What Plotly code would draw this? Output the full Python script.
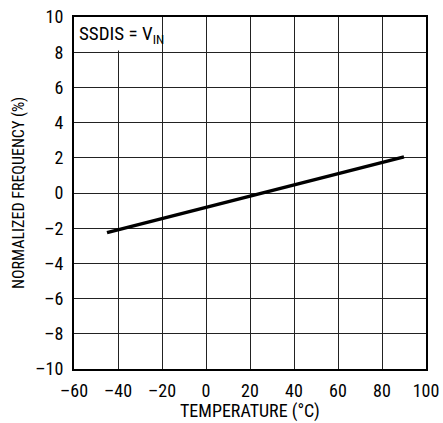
import plotly.graph_objects as go

temperature = [-45, 90]
norm_freq = [-2.25, 2.05]
x_ticks = [-60, -40, -20, 0, 20, 40, 60, 80, 100]
y_ticks = [-10, -8, -6, -4, -2, 0, 2, 4, 6, 8, 10]
y_tick_text = [str(v).replace("-", "\u2013") for v in y_ticks]
x_tick_text = [str(v).replace("-", "\u2013") for v in x_ticks]

FONT = "Liberation Sans Narrow, Roboto Condensed, Arial Narrow, sans-serif"

fig = go.Figure()
fig.add_trace(go.Scatter(x=temperature, y=norm_freq, mode="lines",
                         line=dict(color="black", width=3.5), showlegend=False))

fig.add_shape(type="rect", xref="x", yref="y", x0=-60, x1=-20.5, y0=8.1, y1=10,
              fillcolor="white", line=dict(width=0), layer="above")
fig.add_annotation(x=-58.5, y=9.0, xref="x", yref="y", xanchor="left", yanchor="middle",
                   text="SSDIS = V<sub>IN</sub>", showarrow=False,
                   font=dict(family=FONT, size=19, color="black"))

# axis titles as annotations for precise placement
fig.add_annotation(x=0.5, y=0, xref="paper", yref="paper", yshift=-42,
                   xanchor="center", yanchor="middle", showarrow=False,
                   text="TEMPERATURE (°C)",
                   font=dict(family=FONT, size=18, color="black"))
fig.add_annotation(x=0, y=0.5, xref="paper", yref="paper", xshift=-56,
                   xanchor="center", yanchor="middle", showarrow=False, textangle=-90,
                   text="NORMALIZED FREQUENCY (%)",
                   font=dict(family=FONT, size=16, color="black"))

fig.update_xaxes(range=[-60, 100], tickvals=x_ticks, ticktext=x_tick_text,
                 showgrid=True, gridcolor="#222", gridwidth=1,
                 showline=True, linecolor="black", linewidth=2, mirror=True,
                 zeroline=False, ticks="outside", ticklen=4, tickcolor="rgba(0,0,0,0)",
                 automargin=False,
                 tickfont=dict(family=FONT, size=18, color="black"))
fig.update_yaxes(range=[-10, 10], tickvals=y_ticks, ticktext=y_tick_text,
                 showgrid=True, gridcolor="#222", gridwidth=1,
                 showline=True, linecolor="black", linewidth=2, mirror=True,
                 zeroline=False, ticks="outside", ticklen=5, tickcolor="rgba(0,0,0,0)",
                 automargin=False,
                 tickfont=dict(family=FONT, size=18, color="black"))

fig.update_layout(width=443, height=423, margin=dict(l=74, r=17, t=17, b=54),
                  plot_bgcolor="white", paper_bgcolor="white")

fig.write_html("out.html", config={"displayModeBar": False})

with open("out.html", "r", encoding="utf-8") as f:
    html = f.read()
html = html.replace("<body>", '<body style="margin:0;padding:0;overflow:hidden">', 1)
with open("out.html", "w", encoding="utf-8") as f:
    f.write(html)
